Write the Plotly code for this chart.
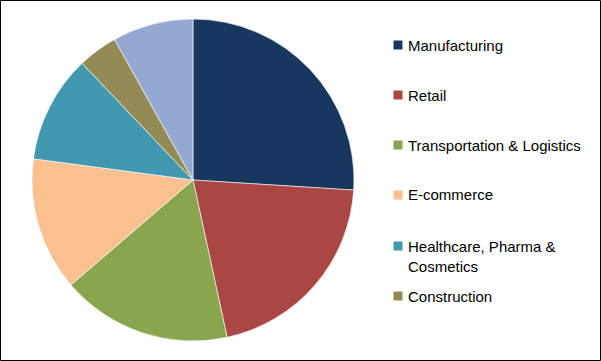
import plotly.graph_objects as go

categories = ["Manufacturing", "Retail", "Transportation & Logistics", "E-commerce",
              "Healthcare, Pharma &<br>Cosmetics", "Construction", "Others"]
values = [26.0, 20.6, 17.1, 13.4, 10.8, 4.0, 8.1]
colors = ["#17375E", "#AA4643", "#89A54E", "#FAC090", "#4198AF", "#948A54", "#93A9D1"]
legend_labels = categories[:6]

W, H = 601, 361
fig = go.Figure()
fig.add_trace(go.Pie(
    labels=categories, values=values, sort=False, direction="clockwise",
    rotation=0, textinfo="none", hoverinfo="label+percent",
    marker=dict(colors=colors, line=dict(color="white", width=0.6)),
    domain=dict(x=[32 / W, 354 / W], y=[(H - 341) / H, (H - 19) / H]),
    showlegend=False,
))

# custom legend (reference legend has wide spacing and is cut off after 6 items)
text_y = [45, 95, 145, 195, 256, 296]
swatch_y = [45, 95, 145, 195, 246, 296]
for lab, col, ty, sy in zip(legend_labels, colors, text_y, swatch_y):
    fig.add_shape(type="rect", xref="paper", yref="paper",
                  x0=393.5 / W, x1=402.5 / W,
                  y0=(H - sy - 4.5) / H, y1=(H - sy + 4.5) / H,
                  fillcolor=col, line=dict(width=0))
    fig.add_annotation(x=406 / W, y=(H - ty) / H, xref="paper", yref="paper",
                       text=lab, showarrow=False, xanchor="left", yanchor="middle",
                       align="left",
                       font=dict(family="Liberation Sans", size=15, color="#000000"))

fig.add_shape(type="rect", xref="paper", yref="paper",
              x0=0.5 / W, x1=1 - 0.5 / W, y0=0.5 / H, y1=1 - 0.5 / H,
              line=dict(color="#000000", width=1))

fig.update_layout(width=W, height=H, margin=dict(l=0, r=0, t=0, b=0),
                  paper_bgcolor="white", plot_bgcolor="white")
fig.write_html("out.html", config={"displayModeBar": False},
               post_script="document.body.style.margin='0';document.body.style.overflow='hidden';")
